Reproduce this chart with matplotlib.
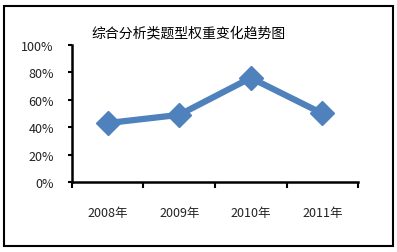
import matplotlib.pyplot as plt
from matplotlib.patches import Rectangle

plt.rcParams['font.family'] = ['Noto Sans CJK SC', 'DejaVu Sans']

years = ['2008年', '2009年', '2010年', '2011年']
weights = [43, 49, 76, 50]
title = '综合分析类题型权重变化趋势图'

fig = plt.figure(figsize=(3.97, 2.53), dpi=100)
fig.patches.append(Rectangle((0.011, 0.024), 0.978, 0.948, transform=fig.transFigure,
                             fill=False, edgecolor='black', linewidth=1.5))

ax = fig.add_axes([0.181, 0.277, 0.721, 0.541])
x = [i + 0.5 for i in range(len(years))]
ax.plot(x, weights, color='#4F81BD', linewidth=4.5, marker='D', markersize=12.5,
        clip_on=False)

ax.set_xlim(0, len(years))
ax.set_ylim(0, 100)
ax.set_xticks(range(len(years) + 1))
ax.set_xticklabels([])
ax.set_xticks(x, minor=True)
ax.set_xticklabels(years, minor=True, fontsize=9, color='#222222')
ax.tick_params(axis='x', which='major', direction='out', length=4, width=1.5)
ax.tick_params(axis='x', which='minor', length=0, pad=17)

ax.set_yticks(range(0, 101, 20))
ax.set_yticklabels([f'{v}%' for v in range(0, 101, 20)], fontsize=9, color='#222222')
ax.tick_params(axis='y', direction='out', length=3, width=1.5, pad=10)

for s in ['top', 'right']:
    ax.spines[s].set_visible(False)
for s in ['left', 'bottom']:
    ax.spines[s].set_linewidth(1.8)

fig.text(0.476, 0.868, title, ha='center', va='center', fontsize=10)

fig.savefig('out.png', dpi=100)
